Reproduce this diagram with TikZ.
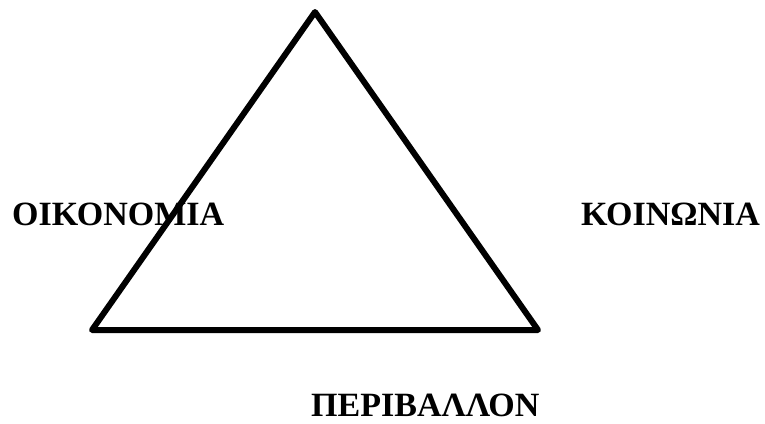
\documentclass[tikz,border=0pt]{standalone}
\usepackage{fontspec}
\setmainfont{Liberation Serif}
\begin{document}
\begin{tikzpicture}[x=1pt,y=-1pt,
  lbl/.style={inner sep=0pt,anchor=base west,font=\fontsize{34}{40}\selectfont\bfseries},
  edge/.style={line width=6pt,line join=round,line cap=round}]
\useasboundingbox (0,0) rectangle (765,423);
\coordinate (top) at (315,12);
\coordinate (bl) at (92,330);
\coordinate (br) at (538,330);
\draw[edge] (top) -- (bl) -- (br) -- cycle;
\node[lbl] (eco) at (12,225) {ΟΙΚΟΝΟΜΙΑ};
\node[lbl] (soc) at (581,225) {ΚΟΙΝΩΝΙΑ};
\node[lbl] (env) at (311,416) {ΠΕΡΙΒΑΛΛΟΝ};
\end{tikzpicture}
\end{document}
